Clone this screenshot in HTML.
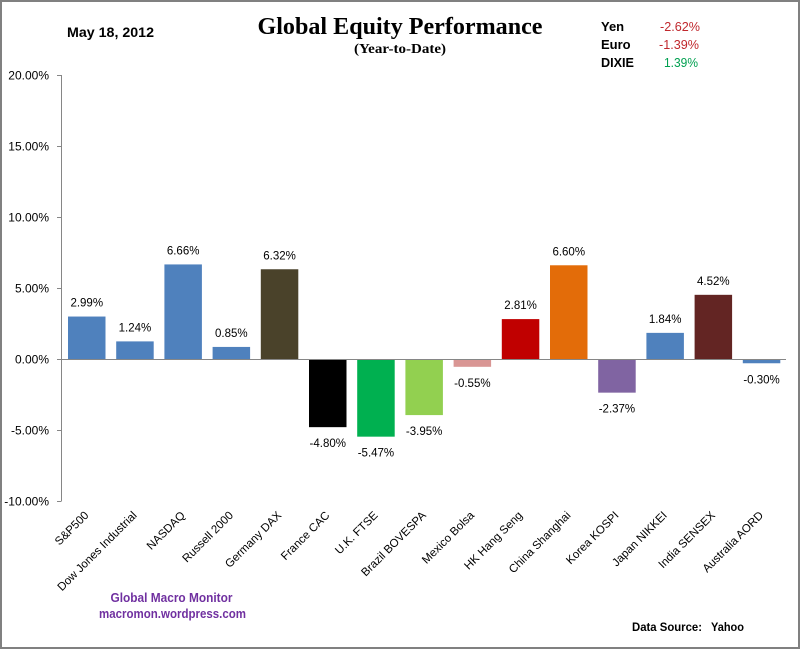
<!DOCTYPE html>
<html><head><meta charset="utf-8"><style>
html,body{margin:0;padding:0;background:#fff;}
svg{display:block;}
text{font-family:"Liberation Sans",Arial,sans-serif;}
.s{font-family:"Liberation Serif","Times New Roman",serif;font-weight:bold;}
</style></head><body>
<svg width="802" height="650" viewBox="0 0 802 650" xmlns="http://www.w3.org/2000/svg">
<rect x="0" y="0" width="802" height="650" fill="#fff"/>
<rect x="1" y="1" width="798" height="647" fill="none" stroke="#808080" stroke-width="2"/>

<!-- Title -->
<text class="s" x="400" y="34" font-size="24" text-anchor="middle" textLength="285" lengthAdjust="spacingAndGlyphs">Global Equity Performance</text>
<text class="s" x="400" y="53" font-size="14" text-anchor="middle" textLength="92" lengthAdjust="spacingAndGlyphs">(Year-to-Date)</text>
<text x="67" y="37" font-size="14" font-weight="bold" textLength="87" lengthAdjust="spacingAndGlyphs">May 18, 2012</text>

<!-- Currency box -->
<g font-size="13">
<text x="601" y="31" font-weight="bold">Yen</text>
<text x="601" y="49" font-weight="bold">Euro</text>
<text x="601" y="67" font-weight="bold" textLength="33" lengthAdjust="spacingAndGlyphs">DIXIE</text>
<text x="700" y="31" text-anchor="end" fill="#c0282d" textLength="40" lengthAdjust="spacingAndGlyphs">-2.62%</text>
<text x="699" y="49" text-anchor="end" fill="#c0282d" textLength="40" lengthAdjust="spacingAndGlyphs">-1.39%</text>
<text x="698" y="67" text-anchor="end" fill="#00a050" textLength="34" lengthAdjust="spacingAndGlyphs">1.39%</text>
</g>

<!-- Y axis -->
<g stroke="#868686" stroke-width="1">
<line x1="61.5" y1="75" x2="61.5" y2="501"/>
<line x1="57" y1="75.5" x2="61.5" y2="75.5"/>
<line x1="57" y1="146.5" x2="61.5" y2="146.5"/>
<line x1="57" y1="217.5" x2="61.5" y2="217.5"/>
<line x1="57" y1="288.5" x2="61.5" y2="288.5"/>
<line x1="57" y1="359.5" x2="61.5" y2="359.5"/>
<line x1="57" y1="430.5" x2="61.5" y2="430.5"/>
<line x1="57" y1="501.5" x2="61.5" y2="501.5"/>
</g>
<g font-size="12" text-anchor="end" fill="#000">
<text x="49" y="79.5">20.00%</text>
<text x="49" y="150.5">15.00%</text>
<text x="49" y="221.5">10.00%</text>
<text x="49" y="292.5">5.00%</text>
<text x="49" y="363.5">0.00%</text>
<text x="49" y="434.5">-5.00%</text>
<text x="49" y="505.5">-10.00%</text>
</g>

<!-- Bars -->
<rect x="68" y="316.54" width="37.5" height="42.46" fill="#4f81bd"/>
<rect x="116.2" y="341.39" width="37.5" height="17.61" fill="#4f81bd"/>
<rect x="164.4" y="264.43" width="37.5" height="94.57" fill="#4f81bd"/>
<rect x="212.6" y="346.93" width="37.5" height="12.07" fill="#4f81bd"/>
<rect x="260.8" y="269.26" width="37.5" height="89.74" fill="#4a422a"/>
<rect x="309" y="359" width="37.5" height="68.16" fill="#000000"/>
<rect x="357.2" y="359" width="37.5" height="77.67" fill="#00b050"/>
<rect x="405.4" y="359" width="37.5" height="56.09" fill="#92d050"/>
<rect x="453.6" y="359" width="37.5" height="7.81" fill="#d99694"/>
<rect x="501.8" y="319.1" width="37.5" height="39.9" fill="#c00000"/>
<rect x="550" y="265.28" width="37.5" height="93.72" fill="#e36c09"/>
<rect x="598.2" y="359" width="37.5" height="33.65" fill="#8064a2"/>
<rect x="646.4" y="332.87" width="37.5" height="26.13" fill="#4f81bd"/>
<rect x="694.6" y="294.82" width="37.5" height="64.18" fill="#632523"/>
<rect x="742.8" y="359" width="37.5" height="4.26" fill="#4f81bd"/>

<line x1="61" y1="359.5" x2="786" y2="359.5" stroke="#868686" stroke-width="1"/>

<!-- Data labels -->
<g font-size="11.5" text-anchor="middle" fill="#000">
<text x="86.75" y="306.5">2.99%</text>
<text x="134.95" y="331.4">1.24%</text>
<text x="183.15" y="254.4">6.66%</text>
<text x="231.35" y="336.9">0.85%</text>
<text x="279.55" y="259.3">6.32%</text>
<text x="327.75" y="447.2">-4.80%</text>
<text x="375.95" y="456.7">-5.47%</text>
<text x="424.15" y="435.1">-3.95%</text>
<text x="472.35" y="386.8">-0.55%</text>
<text x="520.55" y="309.1">2.81%</text>
<text x="568.75" y="255.3">6.60%</text>
<text x="616.95" y="412.7">-2.37%</text>
<text x="665.15" y="322.9">1.84%</text>
<text x="713.35" y="284.8">4.52%</text>
<text x="761.55" y="383.3">-0.30%</text>
</g>

<!-- X labels -->
<g font-size="11.5" text-anchor="end" fill="#000">
<text transform="translate(89.25,516) rotate(-45)">S&amp;P500</text>
<text transform="translate(137.45,516) rotate(-45)">Dow Jones Industrial</text>
<text transform="translate(185.65,516) rotate(-45)">NASDAQ</text>
<text transform="translate(233.85,516) rotate(-45)">Russell 2000</text>
<text transform="translate(282.05,516) rotate(-45)">Germany DAX</text>
<text transform="translate(330.25,516) rotate(-45)">France CAC</text>
<text transform="translate(378.45,516) rotate(-45)">U.K. FTSE</text>
<text transform="translate(426.65,516) rotate(-45)">Brazil BOVESPA</text>
<text transform="translate(474.85,516) rotate(-45)">Mexico Bolsa</text>
<text transform="translate(523.05,516) rotate(-45)">HK Hang Seng</text>
<text transform="translate(571.25,516) rotate(-45)">China Shanghai</text>
<text transform="translate(619.45,516) rotate(-45)">Korea KOSPI</text>
<text transform="translate(667.65,516) rotate(-45)">Japan NIKKEI</text>
<text transform="translate(715.85,516) rotate(-45)">India SENSEX</text>
<text transform="translate(764.05,516) rotate(-45)">Australia AORD</text>
</g>

<!-- Footer -->
<text x="171.5" y="602" font-size="13" font-weight="bold" fill="#7030a0" text-anchor="middle" textLength="122" lengthAdjust="spacingAndGlyphs">Global  Macro  Monitor</text>
<text x="172.5" y="618" font-size="13" font-weight="bold" fill="#7030a0" text-anchor="middle" textLength="147" lengthAdjust="spacingAndGlyphs">macromon.wordpress.com</text>
<text x="632" y="631" font-size="12" font-weight="bold" fill="#000" textLength="70" lengthAdjust="spacingAndGlyphs">Data Source:</text>
<text x="711" y="631" font-size="12" font-weight="bold" fill="#000" textLength="33" lengthAdjust="spacingAndGlyphs">Yahoo</text>
</svg>
</body></html>
